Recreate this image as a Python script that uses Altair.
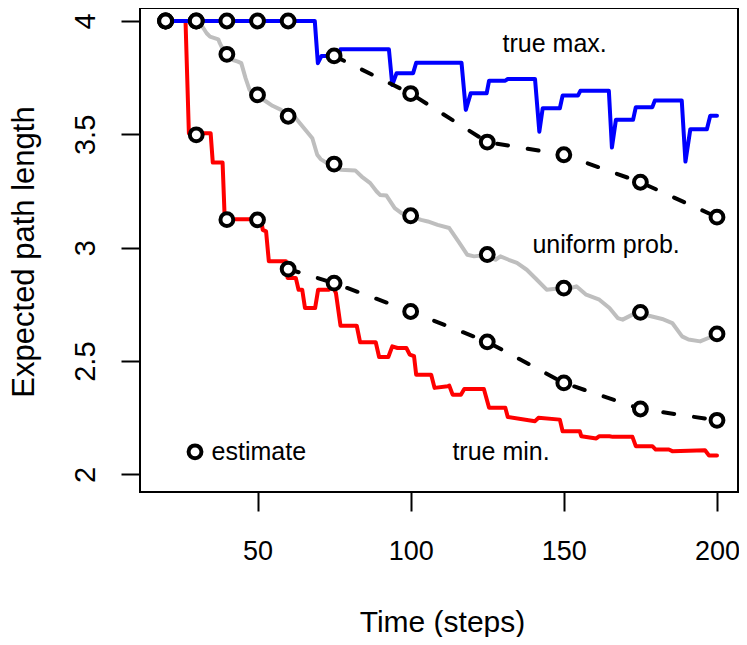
import altair as alt
import pandas as pd

# ---- true max. (blue step line) ----
max_t = [20, 68.7, 69.7, 70.9, 76.5, 77.1, 92.9, 94.0, 95.4, 100.8, 101.8, 116.6, 118.0, 119.6,
         124.8, 125.6, 130.9, 131.7, 140.6, 142.0, 143.1, 148.7, 149.6, 154.6, 155.4, 164.7,
         165.7, 167.0, 172.6, 173.5, 178.9, 179.7, 188.5, 189.7, 191.3, 196.7, 197.8, 200]
max_v = [4.0, 4.0, 3.814, 3.846, 3.846, 3.875, 3.875, 3.718, 3.77, 3.77, 3.816, 3.816, 3.608, 3.681,
         3.681, 3.737, 3.737, 3.744, 3.744, 3.512, 3.615, 3.615, 3.671, 3.671, 3.692, 3.692,
         3.442, 3.564, 3.564, 3.62, 3.62, 3.649, 3.649, 3.38, 3.523, 3.523, 3.582, 3.582]

# ---- true min. (red step line) ----
min_t = [20, 26.5, 27.6, 34.7, 35.4, 38.6, 39.3, 51.2, 51.7, 52.8, 53.7, 59.3, 59.8, 62.5, 63.4,
         64.6, 65.5, 68.8, 69.8, 73.3, 74.4, 75.6, 77.1, 82.4, 83.5, 88.6, 89.7, 92.7, 94.0, 95.7,
         98.6, 99.7, 101.1, 101.8, 106.7, 107.8, 112.1, 112.6, 113.7, 116.4, 117.5, 123.9, 125.6,
         130.9, 131.7, 140.6, 141.7, 148.7, 149.6, 155.2, 155.7, 160.6, 161.6, 164.9, 166.0,
         172.4, 173.5, 178.9, 180.0, 184.3, 185.4, 196.1, 197.4, 200]
min_v = [4.0, 4.0, 3.505, 3.505, 3.376, 3.376, 3.126, 3.126, 3.079, 3.072, 2.94, 2.94, 2.867, 2.867,
         2.815, 2.815, 2.734, 2.734, 2.815, 2.815, 2.837, 2.8, 2.656, 2.656, 2.583, 2.583, 2.518,
         2.518, 2.565, 2.558, 2.558, 2.529, 2.522, 2.44, 2.44, 2.382, 2.389, 2.392, 2.352, 2.352,
         2.377, 2.377, 2.294, 2.294, 2.254, 2.235, 2.25, 2.242, 2.191, 2.191, 2.169, 2.159, 2.169,
         2.169, 2.166, 2.166, 2.125, 2.125, 2.11, 2.11, 2.103, 2.107, 2.084, 2.084]

# ---- uniform prob. (gray line) ----
uni_t = [20, 30.5, 31.3, 33.4, 34.5, 37.2, 37.7, 39.3, 42.0, 43.6, 44.7, 46.1, 47.4, 49.6, 52.8,
         54.9, 57.7, 59.8, 62.5, 65.2, 67.9, 69.5, 70.6, 72.7, 74.6, 77.1, 81.9, 84.0, 86.8, 88.9,
         90.0, 92.1, 94.8, 97.0, 99.7, 103.4, 105.6, 108.8, 112.6, 115.9, 118.5, 120.7, 124.8,
         127.7, 129.3, 132.0, 134.7, 137.9, 141.2, 144.4, 146.6, 149.6, 151.4, 154.1, 157.3,
         161.6, 164.9, 167.6, 169.2, 172.4, 174.4, 177.8, 182.1, 185.4, 188.6, 190.7, 194.5,
         197.2, 199.6, 200]
uni_v = [4.0, 4.0, 3.99, 3.946, 3.931, 3.919, 3.902, 3.858, 3.828, 3.821, 3.814, 3.748, 3.696,
         3.674, 3.645, 3.626, 3.608, 3.581, 3.571, 3.527, 3.483, 3.41, 3.391, 3.373, 3.369, 3.344,
         3.341, 3.314, 3.285, 3.248, 3.233, 3.23, 3.175, 3.153, 3.141, 3.123, 3.116, 3.101, 3.087,
         3.021, 2.969, 2.962, 2.969, 2.947, 2.962, 2.947, 2.933, 2.903, 2.859, 2.815, 2.818,
         2.822, 2.818, 2.83, 2.793, 2.771, 2.734, 2.69, 2.683, 2.705, 2.715, 2.7, 2.686, 2.668,
         2.609, 2.595, 2.587, 2.602, 2.62, 2.62]

# ---- estimates (open circles) ----
est_t = [20, 30, 40, 50, 60, 75, 100, 125, 150, 175, 200]
est_upper = [4.0, 4.0, 4.0, 4.0, 4.0, 3.846, 3.68, 3.466, 3.41, 3.289, 3.135]
est_uniform = [4.0, 4.0, 3.853, 3.674, 3.58, 3.369, 3.141, 2.97, 2.822, 2.715, 2.62]
est_lower = [4.0, 3.498, 3.124, 3.123, 2.906, 2.844, 2.719, 2.585, 2.404, 2.289, 2.239]
dash_start_upper = 75
dash_start_lower = 60

# ---- annotations ----
label_text = ["true max.", "uniform prob.", "true min."]
label_t = [147.0, 163.8, 129.5]
label_v = [3.862, 2.978, 2.064]
legend_t = [29.6]
legend_v = [2.1]
legend_text_t = [35.0]
legend_text_v = [2.064]
legend_label = ["estimate"]

FONT = "Liberation Sans"


def line_df(t, v):
    return pd.DataFrame({"t": t, "v": v, "i": list(range(len(t)))})


x_enc = alt.X("t:Q", scale=alt.Scale(domain=[11.64, 206.86], nice=False, zero=False),
              axis=alt.Axis(values=[50, 100, 150, 200], title="Time (steps)",
                            labelFontSize=27, titleFontSize=30,
                            labelPadding=48, labelBaseline="alphabetic",
                            titleX=302, titleY=139, titleBaseline="alphabetic",
                            titleAlign="center"))
y_enc = alt.Y("v:Q", scale=alt.Scale(domain=[1.9228, 4.0573], nice=False, zero=False),
              axis=alt.Axis(values=[2, 2.5, 3, 3.5, 4], format="~g",
                            title="Expected path length",
                            labelFontSize=29, titleFontSize=31,
                            labelAngle=270, labelAlign="center", labelBaseline="alphabetic",
                            labelPadding=27, titleAngle=270, titleX=-107, titleY=243.5,
                            titleBaseline="alphabetic", titleAlign="center"))

gray_line = alt.Chart(line_df(uni_t, uni_v)).mark_line(
    color="#BEBEBE", strokeWidth=4, strokeCap="round", strokeJoin="round"
).encode(x=x_enc, y=y_enc, order="i:Q")

red_line = alt.Chart(line_df(min_t, min_v)).mark_line(
    color="#FF0000", strokeWidth=4, strokeCap="round", strokeJoin="round"
).encode(x=x_enc, y=y_enc, order="i:Q")

blue_line = alt.Chart(line_df(max_t, max_v)).mark_line(
    color="#0000FF", strokeWidth=4, strokeCap="round", strokeJoin="round"
).encode(x=x_enc, y=y_enc, order="i:Q")

up_t = [t for t in est_t if t >= dash_start_upper]
up_v = [v for t, v in zip(est_t, est_upper) if t >= dash_start_upper]
lo_t = [t for t in est_t if t >= dash_start_lower]
lo_v = [v for t, v in zip(est_t, est_lower) if t >= dash_start_lower]

dash_df = pd.concat([
    pd.DataFrame({"t": up_t, "v": up_v, "s": "upper"}),
    pd.DataFrame({"t": lo_t, "v": lo_v, "s": "lower"}),
])
dashed = alt.Chart(dash_df).mark_line(
    color="black", strokeWidth=4, strokeDash=[11, 20], strokeCap="round"
).encode(x=x_enc, y=y_enc, detail="s:N")

pts_df = pd.concat([
    pd.DataFrame({"t": est_t, "v": est_upper}),
    pd.DataFrame({"t": est_t, "v": est_uniform}),
    pd.DataFrame({"t": est_t, "v": est_lower}),
    pd.DataFrame({"t": legend_t, "v": legend_v}),
])
points = alt.Chart(pts_df).mark_point(
    shape="circle", filled=True, fill="white", stroke="black", strokeWidth=4,
    size=165, opacity=1
).encode(x=x_enc, y=y_enc)

labels = alt.Chart(pd.DataFrame({"t": label_t, "v": label_v, "label": label_text})).mark_text(
    font=FONT, fontSize=25, color="black", align="center", baseline="alphabetic"
).encode(x=x_enc, y=y_enc, text="label:N")

legend_lbl = alt.Chart(pd.DataFrame({"t": legend_text_t, "v": legend_text_v,
                                     "label": legend_label})).mark_text(
    font=FONT, fontSize=25, color="black", align="left", baseline="alphabetic"
).encode(x=x_enc, y=y_enc, text="label:N")

chart = alt.layer(gray_line, red_line, blue_line, dashed, points, labels, legend_lbl).properties(
    width=598, height=484,
    padding={"left": 132, "top": 0, "right": 1, "bottom": 145},
    autosize=alt.AutoSizeParams(type="none"),
).configure_view(
    stroke="black", strokeWidth=2
).configure_axis(
    grid=False, domain=False, ticks=True, tickColor="black", tickWidth=2, tickSize=19,
    labelFont=FONT, labelColor="black",
    titleFont=FONT, titleColor="black", titleFontWeight="normal",
    labelFlush=False, labelOverlap=False, labelBound=False
)

chart.save("out.html", embed_options={"renderer": "svg", "actions": False})
